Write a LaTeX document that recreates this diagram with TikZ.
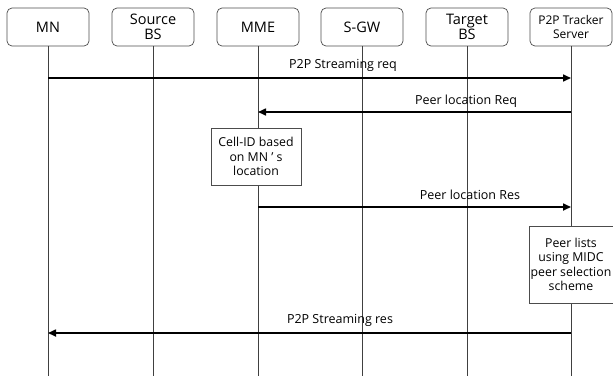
\documentclass[tikz,border=0pt]{standalone}
\usepackage{fontspec}
\setmainfont{Open Sans}
\usetikzlibrary{arrows.meta}
\begin{document}
\begin{tikzpicture}[x=1pt,y=-1pt,
  hdr/.style={draw=black!70, line width=0.7pt, rounded corners=5pt, minimum width=82pt, minimum height=38pt, align=center, font=\fontsize{14.5}{15}\selectfont, inner sep=0pt},
  life/.style={draw=black!75, line width=0.8pt},
  msg/.style={draw=black, line width=1.6pt, -{Triangle[length=8pt,width=7pt]}},
  lbl/.style={font=\fontsize{12.5}{13}\selectfont, inner sep=0pt},
  note/.style={draw=black!70, fill=white, line width=0.7pt, align=center, font=\fontsize{12.3}{14.5}\selectfont, inner sep=0pt}]
\useasboundingbox (0,0) rectangle (613,376);
\node[hdr] (mn) at (48,27) {MN};
\node[hdr] (sbs) at (153,27) {Source\\BS};
\node[hdr] (mme) at (258,27) {MME};
\node[hdr] (sgw) at (362,27) {S-GW};
\node[hdr] (tbs) at (467,27) {Target\\BS};
\node[hdr, font=\fontsize{12}{14}\selectfont] (trk) at (571,27) {P2P Tracker\\Server};
\foreach \n/\x in {mn/48,sbs/153,mme/258,sgw/362,tbs/467,trk/571}{
  \coordinate (\n b) at (\x,376);
  \draw[life] (\n.south) -- (\n b);
}
% messages
\coordinate (a1) at (48,78); \coordinate (a2) at (571,78);
\draw[msg] (a1) -- (a2);
\node[lbl] (l1) at (343,65) {P2P Streaming req};
\coordinate (b1) at (571,112); \coordinate (b2) at (258,112);
\draw[msg] (b1) -- (b2);
\node[lbl] (l2) at (466,101) {Peer location Req};
\node[note, minimum width=90pt, minimum height=57pt] (n1) at (256,156.5) {Cell-ID based\\on MN ' s\\location};
\coordinate (c1) at (258,207); \coordinate (c2) at (571,207);
\draw[msg] (c1) -- (c2);
\node[lbl] (l3) at (470,195) {Peer location Res};
\node[note, minimum width=84pt, minimum height=77pt] (n2) at (571,264.5) {Peer lists\\using MIDC\\peer selection\\scheme};
\coordinate (d1) at (571,333); \coordinate (d2) at (48,333);
\draw[msg] (d1) -- (d2);
\node[lbl] (l4) at (340,320) {P2P Streaming res};
\end{tikzpicture}
\end{document}
